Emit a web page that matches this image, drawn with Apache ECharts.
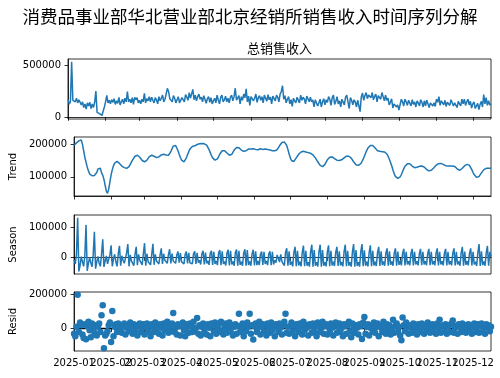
<!DOCTYPE html>
<html>
<head>
<meta charset="utf-8">
<script src="https://cdn.jsdelivr.net/npm/echarts@6/dist/echarts.min.js"></script>
<style>html,body{margin:0;padding:0;background:#fff;}#c{width:500px;height:378px;}</style>
</head>
<body>
<div id="c"></div>
<script>
// Daily data from 2025-01-01, values in thousands
const startDate = '2025-01-01';
const monthLabels = ['2025-01','2025-02','2025-03','2025-04','2025-05','2025-06','2025-07','2025-08','2025-09','2025-10','2025-11','2025-12'];
const titleText = '消费品事业部华北营业部北京经销所销售收入时间序列分解';
const panelTitle = '总销售收入';
const panelNames = ['', 'Trend', 'Season', 'Resid'];

const observedK = [
172,128,150,537,165,178,150,185,140,170,
175,120,150,95,130,80,140,110,145,85,
130,95,145,255,48,42,35,30,18,10,
100,150,213,140,165,130,170,145,180,125,
160,135,194,120,150,175,130,185,150,250,
150,175,140,190,125,194,170,190,140,165,
130,175,150,232,140,180,160,200,150,195,
165,140,190,170,130,200,160,185,215,150,
175,160,281,248,180,195,150,210,185,140,
170,200,140,135,190,175,150,220,195,165,
240,185,200,270,170,215,160,200,225,175,
195,150,210,175,135,180,200,145,190,130,
160,185,140,215,165,130,195,215,150,170,
205,150,185,140,195,215,160,200,282,165,
180,210,130,200,165,225,190,275,150,205,
115,200,215,160,185,225,145,190,210,165,
200,140,215,185,155,220,170,195,130,205,
190,160,215,195,150,225,250,306,175,210,
140,175,200,130,170,105,185,160,140,195,
185,140,215,165,195,175,130,205,190,150,
195,150,170,100,170,165,110,140,175,100,
150,180,120,170,145,200,175,115,190,215,
125,155,200,130,160,100,175,180,120,195,
215,150,85,190,165,120,170,150,100,165,
150,55,200,235,165,210,240,180,215,230,
190,240,170,205,225,150,210,195,175,240,
200,160,215,165,185,120,145,180,90,130,
140,100,120,70,60,175,150,110,175,150,
115,165,150,110,170,125,150,100,160,140,
110,170,145,100,160,110,165,130,95,140,
155,110,140,105,175,145,200,115,160,165,
120,165,105,145,160,115,170,185,110,140,
140,95,155,130,110,175,130,175,115,150,
175,120,155,90,130,150,85,110,135,75,
125,155,100,220,130,190,115,160,120,130
];

const trendK = [
197,200,204,207,210,212,213,200,180,160,
145,130,118,109,104,103,103,104,106,113,
124,129,126,112,105,92,74,56,49,62,
84,106,122,134,142,146,147,145,141,137,
133,130,128,126,126,127,131,137,145,152,
158,163,166,166,164,160,155,150,147,146,
147,151,156,162,165,166,165,163,161,159,
159,161,164,167,169,169,168,167,166,166,
170,177,186,194,197,196,190,180,169,159,
151,147,146,150,158,168,177,185,190,193,
194,195,197,199,200,201,202,202,201,201,
200,197,191,183,174,165,158,153,151,151,
155,162,170,176,180,181,180,177,173,169,
166,166,169,175,182,187,190,190,189,186,
182,179,178,178,180,183,185,185,185,186,
186,185,184,183,183,185,186,185,184,184,
185,185,184,183,182,181,180,180,180,180,
183,188,195,201,205,207,207,204,196,184,
170,158,150,146,147,152,158,164,169,173,
176,178,178,177,176,175,174,173,172,170,
167,163,158,152,146,140,135,132,131,133,
138,145,152,157,160,161,161,159,156,153,
151,150,150,150,152,155,158,161,163,163,
163,161,157,152,146,141,137,135,135,137,
140,146,154,163,172,181,188,193,196,197,
196,193,188,183,180,178,178,178,177,177,
176,174,169,162,153,143,132,120,109,101,
97,95,96,100,107,116,125,132,137,140,
141,140,137,133,130,128,128,129,131,132,
133,133,132,130,127,123,120,118,118,120,
123,127,131,135,138,140,141,141,140,138,
136,134,133,133,133,133,133,133,133,131,
127,123,120,120,122,126,130,134,137,138,
138,135,129,121,113,106,101,98,98,101,
106,112,118,122,125,126,126,126,126,126
];

const seasonK = [
-8,-22,10,132,-47,-28,2,
-15,-30,5,108,-45,-20,0,
-18,-32,8,85,-38,-15,3,
-20,-30,10,60,-32,-12,5,
-22,-28,8,40,-30,-5,10,
-15,-30,12,38,-28,5,-10,
-20,-25,15,44,-30,8,-12,
-18,-28,10,35,-26,10,-10,
-15,-25,12,47,-28,12,-15,
-18,-25,10,45,-25,10,-12,
-15,-22,8,30,-22,12,-10,
-15,-20,10,27,-20,12,-12,
-12,-20,8,19,-18,14,-15,
-10,-22,10,19,-20,15,-18,
-12,-22,12,20,-22,15,-18,
-10,-24,12,22,-24,16,-20,
-12,-25,14,22,-25,18,-22,
-12,-26,15,24,-26,20,-22,
-14,-27,14,25,-27,22,-24,
-14,-28,15,26,-28,22,-25,
-15,-28,14,27,-28,24,-26,
-14,-28,12,25,-27,20,-26,
-12,-26,10,19,-25,18,-22,
-12,-26,12,20,-26,18,-24,
-10,-18,8,14,-16,10,-14,
-14,-28,15,30,-28,20,-25,
-15,-30,16,35,-30,22,-27,
-15,-30,16,39,-30,22,-28,
-16,-31,18,42,-31,24,-28,
-16,-31,18,42,-31,24,-28,
-16,-30,17,40,-30,22,-27,
-15,-29,16,35,-29,20,-27,
-16,-30,18,42,-30,22,-28,
-16,-31,18,44,-31,24,-29,
-16,-31,18,44,-30,23,-28,
-15,-30,16,40,-30,22,-27,
-15,-29,15,35,-29,20,-26,
-14,-28,14,30,-28,20,-25,
-14,-28,14,30,-28,19,-25,
-13,-27,13,28,-27,18,-24,
-13,-27,13,28,-27,18,-24,
-13,-27,12,28,-26,18,-24,
-13,-27,12,28,-26,18,-24,
-13,-27,13,30,-27,18,-24,
-13,-27,13,28,-27,18,-24,
-13,-27,13,30,-27,18,-24,
-14,-28,14,35,-28,19,-25,
-13,-27,13,30,-27,18,-24,
-15,-29,16,44,-29,20,-26,
-14,-28,14,38,-28,18,2
];

const residK = [
-30,-45,10,197,-20,35,20,-35,-55,25,
-62,15,40,-10,-50,30,5,-25,20,-40,
10,30,-20,78,136,-115,-40,-30,-15,20,
35,-78,103,-45,10,25,-20,30,-15,5,
-25,15,30,-35,5,20,-15,35,10,-30,
25,-10,20,-40,15,30,-20,5,25,-35,
10,30,-15,20,-45,25,10,-20,35,-5,
15,-30,25,5,-40,30,-10,20,40,-25,
10,-15,30,91,-20,5,-35,25,15,-40,
20,35,-10,-45,25,10,-25,30,15,-20,
40,-15,5,62,-30,20,-40,10,30,-20,
15,-35,25,5,-45,30,20,-15,35,-30,
10,25,-20,40,-10,-35,20,30,-25,5,
35,-15,20,-40,10,25,-30,15,87,-20,
5,30,-45,20,-15,35,10,87,-30,20,
-64,15,30,-20,5,40,-35,10,25,-15,
20,-40,30,5,-25,35,-10,15,-45,25,
10,-20,30,5,-35,20,40,87,-25,10,
-30,15,35,-15,20,-45,25,5,-20,30,
10,-35,40,-10,20,5,-40,25,15,-25,
30,-15,10,-45,35,20,-20,5,40,-30,
15,25,-35,10,-15,30,5,-40,20,35,
-25,10,30,-20,5,-45,25,15,-30,20,
40,-15,-50,30,10,-25,20,5,-35,25,
15,-60,35,68,-30,10,25,-40,5,20,
-15,35,-25,10,30,-45,15,5,-20,40,
10,-30,25,-10,20,-35,5,52,-25,15,
30,-20,10,-40,-68,64,20,-15,35,5,
-30,20,10,-25,30,-10,15,-35,25,5,
-20,30,10,-30,20,-15,35,5,-25,15,
25,-20,10,-30,30,5,52,-25,15,20,
-15,25,-30,10,20,-20,30,47,-25,5,
15,-30,25,10,-20,30,-10,20,-25,5,
25,-15,20,-30,10,30,-20,5,25,-25,
15,30,-20,10,-30,25,5,20,-15,10
];

// build date categories
const N = observedK.length;
const dates = [];
const sd = new Date(startDate + 'T00:00:00Z');
for (let i = 0; i < N; i++) {
  const d = new Date(sd.getTime() + i * 86400000);
  dates.push(d.toISOString().slice(0, 10));
}
const toUnits = a => a.map(v => v * 1000);
const isMonthStartVal = val => monthLabels.indexOf(val.slice(0, 7)) >= 0 && val.slice(8) === '01';
const isMonthStart = (idx, val) => isMonthStartVal(val);

const blue = '#1f77b4';
const tickFont = { fontFamily: 'DejaVu Sans', fontSize: 10, color: '#000' };

const grids = [
  { left: 68, top: 59, width: 423, height: 60 },
  { left: 68, top: 137, width: 423, height: 59 },
  { left: 68, top: 215, width: 423, height: 59 },
  { left: 68, top: 292, width: 423, height: 59 }
].map(g => Object.assign(g, { show: true, borderColor: '#000', borderWidth: 0.8, backgroundColor: 'transparent', containLabel: false }));

const yRanges = [
  { min: -16500, max: 565000, ticks: [0, 500000] },
  { min: 41000, max: 222000, ticks: [100000, 200000] },
  { min: -55600, max: 141000, ticks: [0, 100000] },
  { min: -130600, max: 213000, ticks: [0, 200000] }
];

const xAxes = grids.map((g, i) => ({
  type: 'category', gridIndex: i, data: dates, boundaryGap: false,
  axisLine: { show: true, lineStyle: { color: '#000', width: 0.8 } },
  axisTick: { show: true, interval: isMonthStart, length: 3.5, lineStyle: { color: '#000', width: 0.8 } },
  axisLabel: i === 3 ? Object.assign({ show: true, interval: 0, hideOverlap: false, margin: 7,
    formatter: v => isMonthStartVal(v) ? v.slice(0, 7) : '' }, tickFont) : { show: false },
  splitLine: { show: false }
}));

const yAxes = yRanges.map((r, i) => ({
  type: 'value', gridIndex: i, min: r.min, max: r.max,
  name: panelNames[i], nameLocation: 'middle', nameRotate: 90, nameGap: 50,
  nameTextStyle: { fontFamily: 'DejaVu Sans', fontSize: 10, color: '#000' },
  axisLine: { show: true, lineStyle: { color: '#000', width: 0.8 } },
  axisTick: { show: true, length: 3.5, customValues: r.ticks, lineStyle: { color: '#000', width: 0.8 } },
  axisLabel: Object.assign({ show: true, margin: 7, customValues: r.ticks, formatter: v => String(Math.round(v)) }, tickFont),
  splitLine: { show: false }
}));

const lineStyle = { color: blue, width: 1.5 };
const option = {
  animation: false,
  backgroundColor: '#fff',
  title: [
    { text: titleText, left: 'center', top: 8, padding: 0,
      textStyle: { fontFamily: 'Noto Sans CJK SC', fontSize: 17.5, fontWeight: 'normal', color: '#000' } },
    { text: panelTitle, left: 279.5, textAlign: 'center', top: 42, padding: 0,
      textStyle: { fontFamily: 'Noto Sans CJK SC', fontSize: 13, fontWeight: 'normal', color: '#000' } }
  ],
  grid: grids,
  xAxis: xAxes,
  yAxis: yAxes,
  series: [
    { type: 'line', xAxisIndex: 0, yAxisIndex: 0, data: toUnits(observedK), showSymbol: false, lineStyle, itemStyle: { color: blue } },
    { type: 'line', xAxisIndex: 1, yAxisIndex: 1, data: toUnits(trendK), showSymbol: false, lineStyle, itemStyle: { color: blue } },
    { type: 'line', xAxisIndex: 2, yAxisIndex: 2, data: toUnits(seasonK), showSymbol: false, lineStyle, itemStyle: { color: blue } },
    { type: 'line', xAxisIndex: 3, yAxisIndex: 3, data: [[dates[0], 0], [dates[N - 1], 0]], showSymbol: false, z: 1,
      lineStyle: { color: '#000', width: 1.5 }, silent: true },
    { type: 'scatter', xAxisIndex: 3, yAxisIndex: 3, data: toUnits(residK), symbolSize: 6.5, z: 3,
      itemStyle: { color: blue, opacity: 1 } }
  ]
};
const chart = echarts.init(document.getElementById('c'), null, { renderer: 'canvas' });
chart.setOption(option);
</script>
</body>
</html>
